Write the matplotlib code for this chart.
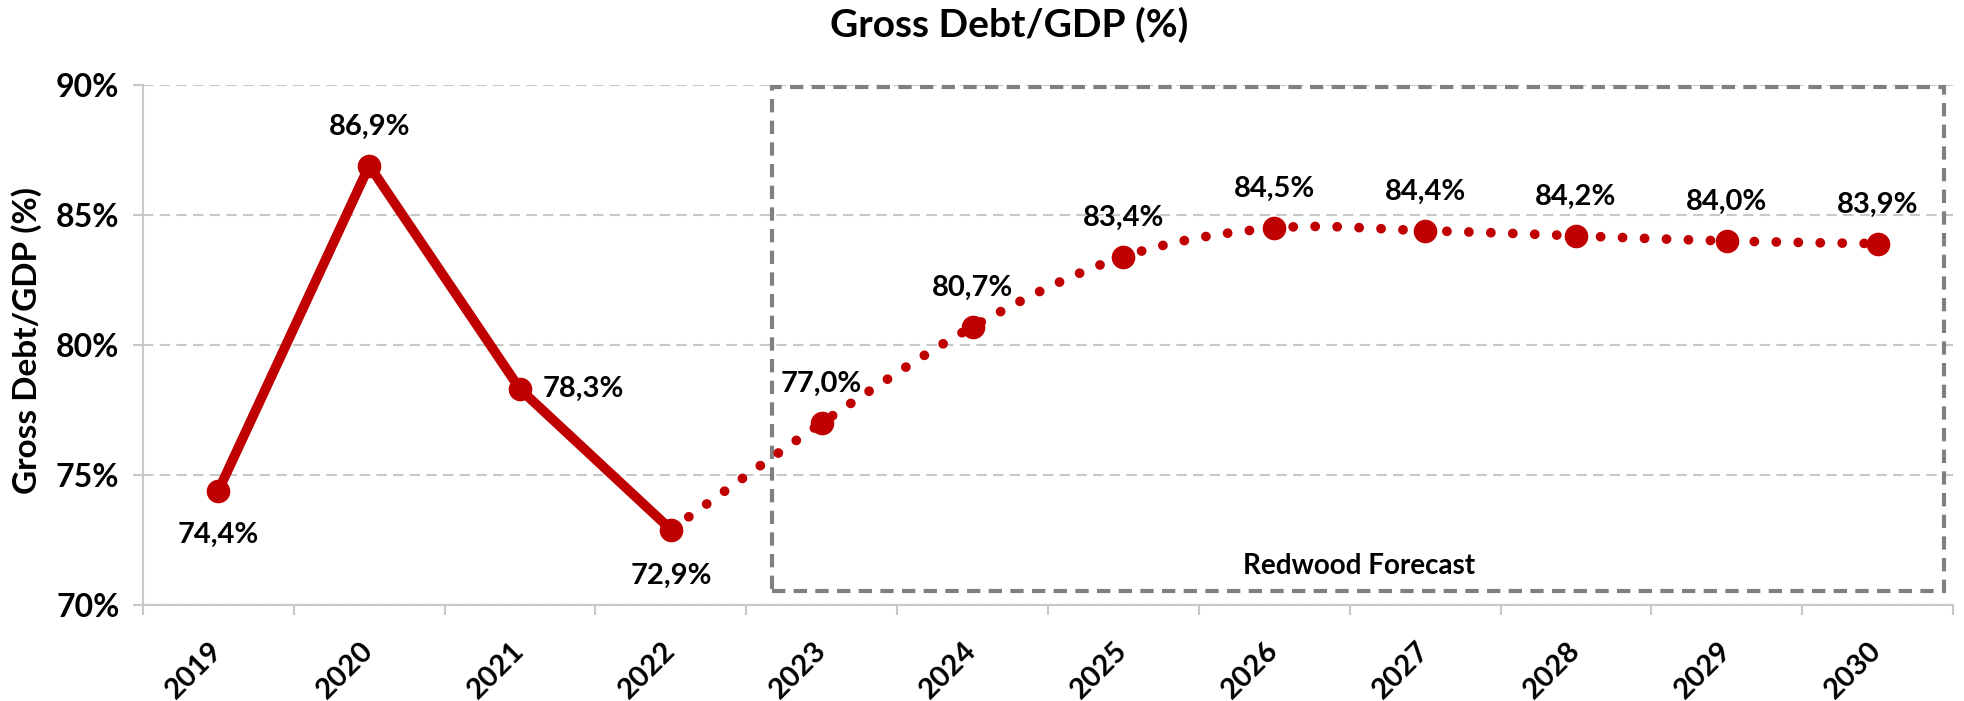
import numpy as np
import matplotlib
matplotlib.use("Agg")
import matplotlib.pyplot as plt
from matplotlib.path import Path
from matplotlib.patches import PathPatch, Rectangle
from matplotlib.ticker import FixedLocator, FuncFormatter

plt.rcParams['font.family'] = ['Lato', 'DejaVu Sans']
plt.rcParams['font.weight'] = 'bold'

years = ['2019', '2020', '2021', '2022', '2023', '2024', '2025', '2026', '2027', '2028', '2029', '2030']
debt = [74.4, 86.9, 78.3, 72.9, 77.0, 80.7, 83.4, 84.5, 84.4, 84.2, 84.0, 83.9]
labels = ['74,4%', '86,9%', '78,3%', '72,9%', '77,0%', '80,7%', '83,4%', '84,5%', '84,4%', '84,2%', '84,0%', '83,9%']
n_actual = 4  # 2019-2022 actual, rest forecast

red = '#C00000'
grid_gray = '#C8C8C8'
box_gray = '#808080'

fig = plt.figure(figsize=(19.64, 7.01), dpi=100)
ax = fig.add_axes([143 / 1964, 1 - 605 / 701, (1953 - 143) / 1964, (605 - 85) / 701])

x = np.arange(len(years))
y = np.array(debt)

# actual: solid line
ax.plot(x[:n_actual], y[:n_actual], color=red, lw=7, solid_capstyle='round', zorder=3)

# forecast: smoothed dotted line (bezier through the points, like excel smoothing)
fx = x[n_actual - 1:].astype(float)
fy = y[n_actual - 1:]
px = np.concatenate([[fx[0]], fx, [fx[-1]]])
py = np.concatenate([[fy[0]], fy, [fy[-1]]])
verts = [(fx[0], fy[0])]
codes = [Path.MOVETO]
for i in range(1, len(px) - 2):
    c1 = (px[i] + (px[i + 1] - px[i - 1]) / 6, py[i] + (py[i + 1] - py[i - 1]) / 6)
    c2 = (px[i + 1] - (px[i + 2] - px[i]) / 6, py[i + 1] - (py[i + 2] - py[i]) / 6)
    verts += [c1, c2, (px[i + 1], py[i + 1])]
    codes += [Path.CURVE4] * 3
curve = PathPatch(Path(verts, codes), fill=False, edgecolor=red, lw=7,
                  linestyle=(0, (0.01, 2.25)), capstyle='round', zorder=3)
ax.add_patch(curve)

ax.plot(x, y, 'o', color=red, ms=16, zorder=4)

# data labels
offsets = {0: (0, -32), 2: (16, 0), 3: (0, -33)}
for i, (xi, yi) in enumerate(zip(x, y)):
    dx, dy = offsets.get(i, (0, 28))
    ax.annotate(labels[i], (xi, yi), xytext=(dx, dy), textcoords='offset points',
                ha='left' if i == 2 else 'center', va='center', fontsize=21,
                fontweight='bold', color='black', zorder=5)

# forecast box
ax.add_patch(Rectangle((3.67, 70.55), 11.44 - 3.67, 89.92 - 70.55, fill=False,
                       edgecolor=box_gray, lw=3, linestyle=(0, (3.2, 2.0)), zorder=2,
                       clip_on=False))
ax.text(7.56, 71.5, 'Redwood Forecast', ha='center', va='center', fontsize=20,
        fontweight='bold', color='black')

ax.set_xlim(-0.5, 11.5)
ax.set_ylim(70, 90)
ax.set_yticks([70, 75, 80, 85, 90])
ax.yaxis.set_major_formatter(FuncFormatter(lambda v, p: f'{v:.0f}%'))
ax.set_xticks(x)
ax.set_xticklabels(years, rotation=45, ha='right', va='center', rotation_mode='anchor')
ax.xaxis.set_minor_locator(FixedLocator(np.arange(-0.5, 12, 1)))

ax.tick_params(axis='x', which='major', length=0, pad=30, labelsize=21)
ax.tick_params(axis='x', which='minor', length=7, width=1.5, color=grid_gray)
ax.tick_params(axis='y', length=7, width=1.5, color=grid_gray, pad=10, labelsize=23)
for lab in ax.get_xticklabels() + ax.get_yticklabels():
    lab.set_fontweight('bold')

ax.yaxis.grid(True, color=grid_gray, linestyle=(0, (5, 3)), lw=1.5, zorder=0)
for s in ['top', 'right']:
    ax.spines[s].set_visible(False)
for s in ['left', 'bottom']:
    ax.spines[s].set_color(grid_gray)
    ax.spines[s].set_linewidth(1.5)

fig.text(1009 / 1964, 1 - 25 / 701, 'Gross Debt/GDP (%)', ha='center', va='center',
         fontsize=28, fontweight='bold')
fig.text(27 / 1964, 1 - 341 / 701, 'Gross Debt/GDP (%)', ha='center', va='center',
         rotation=90, fontsize=24, fontweight='bold')

fig.savefig('out.png', dpi=100)
